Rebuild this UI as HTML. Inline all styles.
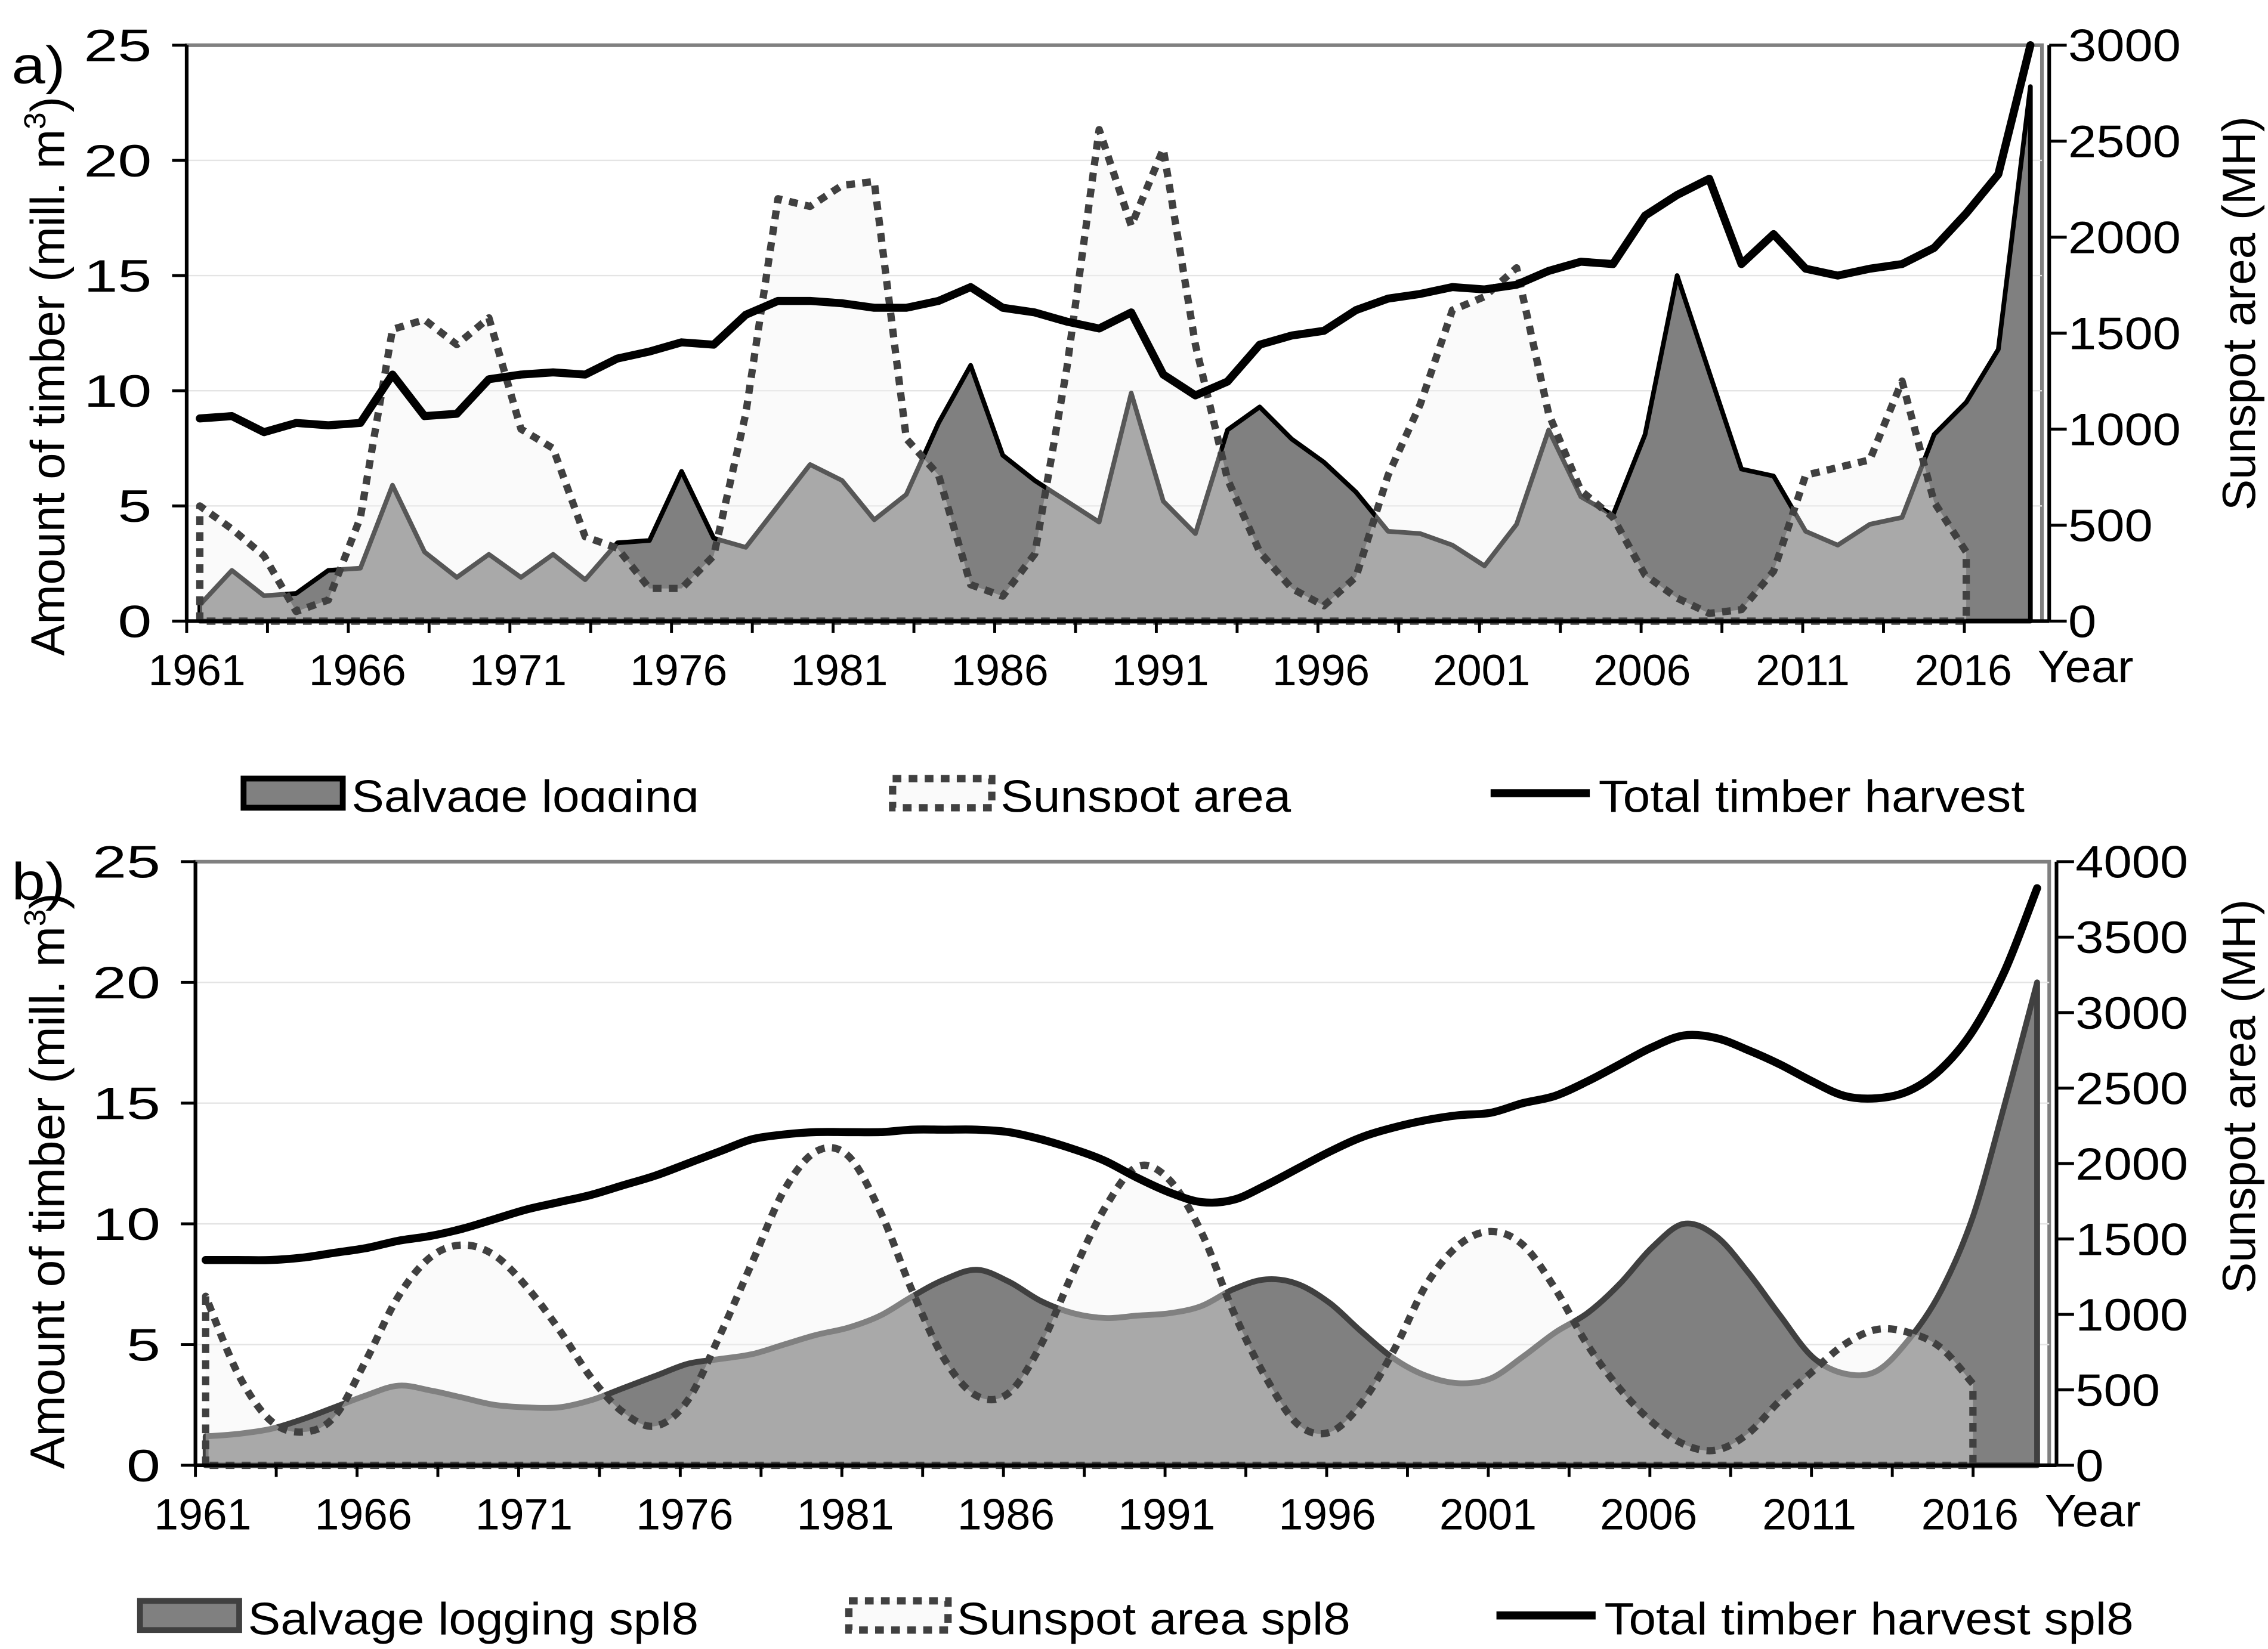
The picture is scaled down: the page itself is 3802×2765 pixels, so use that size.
<!DOCTYPE html>
<html><head><meta charset="utf-8"><style>
html,body{margin:0;padding:0;background:#fff;}
svg{display:block;font-family:"Liberation Sans",Arial,sans-serif;}
</style></head><body>
<svg id="chart" xmlns="http://www.w3.org/2000/svg" width="3802" height="2765" viewBox="0 0 1555 1131" preserveAspectRatio="none">
<defs><clipPath id="legAclip"><rect x="0" y="500" width="1555" height="57"/></clipPath></defs>
<g id="panelA"></g>
<g id="panelB"></g>
<g id="legends"></g>
</svg>
<script>
const years = [];
for (let y = 1961; y <= 2018; y++) years.push(y);
const xTickLabels = ["1961","1966","1971","1976","1981","1986","1991","1996","2001","2006","2011","2016"];
const leftTicks = [0,5,10,15,20,25];
const rightTicksA = [0,500,1000,1500,2000,2500,3000];
const rightTicksB = [0,500,1000,1500,2000,2500,3000,3500,4000];

const totalA = [8.8,8.9,8.2,8.6,8.5,8.6,10.7,8.9,9.0,10.5,10.7,10.8,10.7,11.4,11.7,12.1,12.0,13.3,13.9,13.9,13.8,13.6,13.6,13.9,14.5,13.6,13.4,13.0,12.7,13.4,10.7,9.8,10.4,12.0,12.4,12.6,13.5,14.0,14.2,14.5,14.4,14.6,15.2,15.6,15.5,17.6,18.5,19.2,15.5,16.8,15.3,15.0,15.3,15.5,16.2,17.7,19.4,25.0];
const salvageA = [0.7,2.2,1.1,1.2,2.2,2.3,5.9,3.0,1.9,2.9,1.9,2.9,1.8,3.4,3.5,6.5,3.6,3.2,5.0,6.8,6.1,4.4,5.5,8.6,11.1,7.2,6.1,5.2,4.3,9.9,5.2,3.8,8.3,9.3,7.9,6.9,5.6,3.9,3.8,3.3,2.4,4.2,8.3,5.4,4.6,8.1,15.0,10.8,6.6,6.3,3.9,3.3,4.2,4.5,8.1,9.5,11.8,23.2];
const sunspotA = [600,480,340,50,110,540,1520,1570,1440,1580,1000,900,440,380,170,170,340,1080,2200,2160,2270,2290,950,760,190,130,350,1320,2560,2060,2460,1440,740,360,170,80,230,760,1130,1620,1690,1840,1080,680,540,240,120,40,60,260,760,800,840,1250,620,360];

const totalB = [8.5,8.5,8.5,8.6,8.8,9.0,9.3,9.5,9.8,10.2,10.6,10.9,11.2,11.6,12.0,12.5,13.0,13.5,13.7,13.8,13.8,13.8,13.9,13.9,13.9,13.8,13.5,13.1,12.6,11.9,11.3,10.9,11.0,11.6,12.3,13.0,13.6,14.0,14.3,14.5,14.6,15.0,15.3,15.9,16.6,17.3,17.8,17.7,17.2,16.6,15.9,15.3,15.2,15.5,16.4,18.0,20.5,23.9];
const salvageB = [1.2,1.3,1.5,1.9,2.4,2.9,3.3,3.1,2.8,2.5,2.4,2.4,2.7,3.2,3.7,4.2,4.4,4.6,5.0,5.4,5.7,6.2,7.0,7.7,8.1,7.6,6.8,6.3,6.1,6.2,6.3,6.6,7.3,7.7,7.5,6.7,5.5,4.4,3.7,3.4,3.6,4.5,5.5,6.3,7.5,9.0,10.0,9.5,8.0,6.2,4.5,3.8,3.9,5.2,7.2,10.3,15.0,20.0];
const sunspotB = [1120,610,300,220,320,700,1120,1380,1460,1390,1180,900,580,350,260,430,860,1340,1820,2080,2050,1680,1150,700,460,480,800,1280,1710,1980,1890,1540,1010,580,270,220,420,770,1200,1460,1550,1460,1170,800,510,290,140,100,210,430,620,800,900,880,780,540];

const NS = "http://www.w3.org/2000/svg";
function mk(parent, tag, attrs, text) {
  const e = document.createElementNS(NS, tag);
  for (const k in attrs) e.setAttribute(k, attrs[k]);
  if (text !== undefined) e.textContent = text;
  parent.appendChild(e);
  return e;
}
function stext(parent, x, y, anchor, size, sx, str) {
  return mk(parent,"text",{transform:"translate("+x+","+y+") scale("+sx+",1)","text-anchor":anchor,"font-size":size},str);
}
function linePath(pts) { return pts.map((p,i)=>(i?"L":"M")+p[0].toFixed(1)+","+p[1].toFixed(1)).join(""); }
function smoothPath(pts) {
  let d = "M"+pts[0][0].toFixed(1)+","+pts[0][1].toFixed(1);
  for (let i=0;i<pts.length-1;i++){
    const p0=pts[Math.max(0,i-1)],p1=pts[i],p2=pts[i+1],p3=pts[Math.min(pts.length-1,i+2)];
    const c1=[p1[0]+(p2[0]-p0[0])/6,p1[1]+(p2[1]-p0[1])/6];
    const c2=[p2[0]-(p3[0]-p1[0])/6,p2[1]-(p3[1]-p1[1])/6];
    d+="C"+c1[0].toFixed(1)+","+c1[1].toFixed(1)+" "+c2[0].toFixed(1)+","+c2[1].toFixed(1)+" "+p2[0].toFixed(1)+","+p2[1].toFixed(1);
  }
  return d;
}

function drawPanel(g, cfg) {
  const x = yr => cfg.x0 + (yr-1961)*cfg.dx;
  const yL = v => cfg.bottom - v/25*(cfg.bottom-cfg.top);
  const yR = v => cfg.bottom - v/cfg.rmax*(cfg.bottom-cfg.top);
  const build = cfg.smooth ? smoothPath : linePath;
  const fr = mk(g,"rect",{x:cfg.left,y:cfg.top,width:cfg.right-cfg.left,height:cfg.bottom-cfg.top,fill:"#fff",stroke:"#808080","stroke-width":2.5});
  
  
  leftTicks.forEach(v=>{
    if (v>0 && v<25) {
      const gl = mk(g,"line",{x1:cfg.left,x2:cfg.right,y1:yL(v),y2:yL(v),stroke:"#e4e4e4","stroke-width":1});
      
      
    }
  });
  const sPts = years.map((yr,i)=>[x(yr), yL(cfg.salvage[i])]);
  const sPath = build(sPts) + "L"+x(2018).toFixed(1)+","+cfg.bottom+"L"+x(1961).toFixed(1)+","+cfg.bottom+"Z";
  const sa = mk(g,"path",{d:sPath,fill:"#808080",stroke:cfg.smooth?"#404040":"#000","stroke-width":cfg.smooth?4:3.2,"stroke-linejoin":"round"});
  
  
  const spYears = years.slice(0, cfg.sunspot.length);
  const spPts = spYears.map((yr,i)=>[x(yr), yR(cfg.sunspot[i])]);
  const lastX = x(spYears[spYears.length-1]);
  const spPath = "M"+x(1961).toFixed(1)+","+cfg.bottom+"L"+spPts[0][0].toFixed(1)+","+spPts[0][1].toFixed(1)+build(spPts).slice(1).replace(/^[^CL]*/,"") + "L"+lastX.toFixed(1)+","+cfg.bottom+"Z";
  const sp = mk(g,"path",{d:spPath,fill:"rgb(240,240,240)","fill-opacity":0.36,stroke:"#404040","stroke-width":5,"stroke-dasharray":"6,5","stroke-linejoin":"round"});
  
  
  const tPts = years.map((yr,i)=>[x(yr), Math.max(cfg.top, yL(cfg.total[i]))]);
  const tl = mk(g,"path",{d:build(tPts),fill:"none",stroke:"#000","stroke-width":5.5,"stroke-linejoin":"round","stroke-linecap":"round"});
  
  
  const la = mk(g,"line",{x1:cfg.left,x2:cfg.left,y1:cfg.top,y2:cfg.bottom,stroke:"#000","stroke-width":2.5});
  
  
  const ra = mk(g,"line",{x1:cfg.raxis,x2:cfg.raxis,y1:cfg.top,y2:cfg.bottom,stroke:"#000","stroke-width":2.5});
  
  
  const xa = mk(g,"line",{x1:cfg.left,x2:cfg.raxis,y1:cfg.bottom,y2:cfg.bottom,stroke:"#000","stroke-width":2.5});
  
  
  leftTicks.forEach(v=>{
    mk(g,"line",{x1:cfg.left-10,x2:cfg.left,y1:yL(v),y2:yL(v),stroke:"#000","stroke-width":2});
    const t = stext(g, cfg.left-24, yL(v)+11, "end", 31, 1.35, String(v));
    
    
  });
  cfg.rticks.forEach(v=>{
    mk(g,"line",{x1:cfg.raxis,x2:cfg.raxis+12,y1:yR(v),y2:yR(v),stroke:"#000","stroke-width":2});
    const t = stext(g, cfg.raxis+13, yR(v)+11, "start", 31, 1.12, String(v));
    
    
  });
  for (let k=0;k<=22;k++){
    const tx = cfg.left + k*cfg.tickStep;
    if (tx>cfg.raxis+1) break;
    mk(g,"line",{x1:tx,x2:tx,y1:cfg.bottom,y2:cfg.bottom+8,stroke:"#000","stroke-width":2});
  }
  xTickLabels.forEach(lbl=>{
    const t = stext(g, x(+lbl)-2, cfg.bottom+44, "middle", 30, 1.0, lbl);
    
    
  });
  const yt = stext(g, cfg.raxis-8, cfg.bottom+42, "start", 31, 1.05, "Year");
  
  
  const lt = mk(g,"text",{transform:"translate(44,"+cfg.lcy+") rotate(-90)","text-anchor":"middle","font-size":cfg.lfs});
  
  
  lt.appendChild(document.createTextNode("Amount of timber (mill. m"));
  mk(lt,"tspan",{"font-size":21,dy:-13},"3");
  mk(lt,"tspan",{dy:13},")");
  const rt = mk(g,"text",{transform:"translate(1546,"+cfg.rcy+") rotate(-90)","text-anchor":"middle","font-size":32},"Sunspot area (MH)");
  
  
  const pl = stext(g, 8, cfg.top+26, "start", 36, 1.15, cfg.label);
  
  
}

drawPanel(document.getElementById("panelA"), {
  left:128, right:1400, raxis:1405, top:31, bottom:426, x0:137, dx:22.02, rmax:3000, lcy:258, rcy:215, lfs:32.5,
  rticks:rightTicksA, total:totalA, salvage:salvageA, sunspot:sunspotA, smooth:false, label:"a)", tickStep:55.4
});
drawPanel(document.getElementById("panelB"), {
  left:134, right:1405, raxis:1410, top:591, bottom:1005, x0:141, dx:22.03, rmax:4000, lcy:810, rcy:752, lfs:33.5,
  rticks:rightTicksB, total:totalB, salvage:salvageB, sunspot:sunspotB, smooth:true, label:"b)", tickStep:55.4
});

function legend(g, sx, ty, kind, text, clip) {
  const lg = mk(g,"g",clip?{"clip-path":"url(#legAclip)"}:{});
  
  
  if (kind==="area") mk(lg,"rect",{x:sx,y:ty-12,width:68,height:20,fill:"#808080",stroke:clip?"#000":"#404040","stroke-width":4});
  else if (kind==="dash") mk(lg,"rect",{x:sx,y:ty-12,width:68,height:20,fill:"#fafafa",stroke:"#404040","stroke-width":5,"stroke-dasharray":"6,5"});
  else mk(lg,"line",{x1:sx,x2:sx+68,y1:ty-2,y2:ty-2,stroke:"#000","stroke-width":5.5});
  stext(lg, sx+74, ty+11, "start", 31, 1.08, text);
}
const L = document.getElementById("legends");
legend(L,167,546,"area","Salvage logging",true);
legend(L,612,546,"dash","Sunspot area",true);
legend(L,1022,546,"line","Total timber harvest",true);
legend(L,96,1110,"area","Salvage logging spl8",false);
legend(L,582,1110,"dash","Sunspot area spl8",false);
legend(L,1026,1110,"line","Total timber harvest spl8",false);
</script>
</body></html>
